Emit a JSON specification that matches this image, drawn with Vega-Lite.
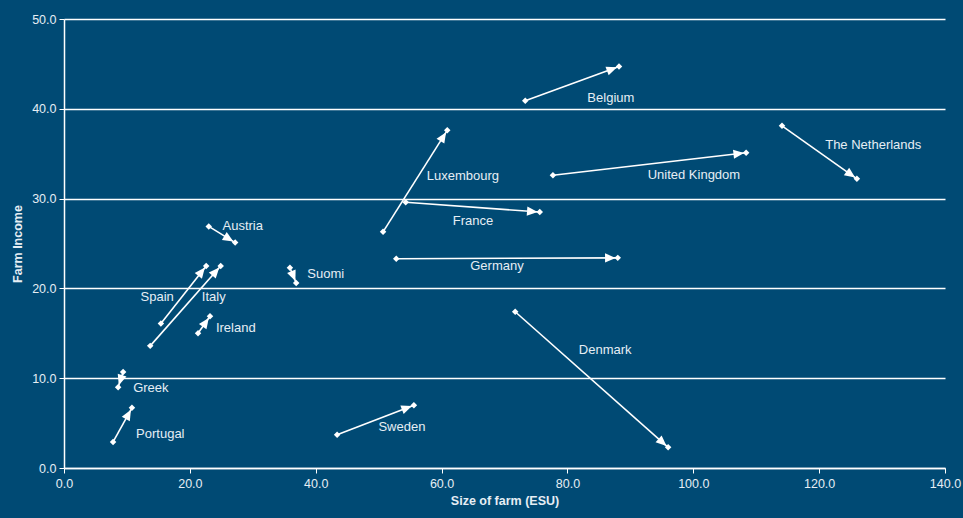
{
  "$schema": "https://vega.github.io/schema/vega-lite/v6.json",
  "width": 881,
  "height": 449,
  "autosize": {"type": "none"},
  "padding": {"left": 64, "top": 19, "right": 18, "bottom": 50},
  "background": "#004a74",
  "config": {
    "view": {"stroke": null},
    "font": "Liberation Sans",
    "axis": {
      "domainColor": "#ffffff",
      "domainWidth": 1.5,
      "tickColor": "#ffffff",
      "tickSize": 5,
      "labelColor": "#e6eef4",
      "labelFont": "Liberation Sans",
      "labelFontSize": 12.5,
      "labelFlush": false,
      "titleColor": "#e6eef4",
      "titleFont": "Liberation Sans",
      "titleFontSize": 12.5,
      "titleFontWeight": "bold",
      "gridColor": "#ffffff",
      "gridWidth": 1.3,
      "gridOpacity": 1
    }
  },
  "data": {
    "values": [
      {"country": "Belgium", "x": 73.3, "y": 40.9, "x2": 88.2, "y2": 44.7, "lx": 86.9, "ly": 41.2},
      {"country": "Luxembourg", "x": 50.7, "y": 26.3, "x2": 60.9, "y2": 37.6, "lx": 63.4, "ly": 32.5},
      {"country": "France", "x": 54.3, "y": 29.6, "x2": 75.6, "y2": 28.5, "lx": 65.0, "ly": 27.5},
      {"country": "United Kingdom", "x": 77.7, "y": 32.6, "x2": 108.4, "y2": 35.1, "lx": 100.1, "ly": 32.6},
      {"country": "The Netherlands", "x": 114.1, "y": 38.1, "x2": 126.0, "y2": 32.2, "lx": 128.6, "ly": 36.0},
      {"country": "Germany", "x": 52.8, "y": 23.3, "x2": 88.0, "y2": 23.4, "lx": 68.8, "ly": 22.5},
      {"country": "Denmark", "x": 71.7, "y": 17.4, "x2": 96.0, "y2": 2.3, "lx": 86.0, "ly": 13.1},
      {"country": "Sweden", "x": 43.4, "y": 3.7, "x2": 55.6, "y2": 7.0, "lx": 53.7, "ly": 4.6},
      {"country": "Austria", "x": 23.0, "y": 26.9, "x2": 27.2, "y2": 25.1, "lx": 28.4, "ly": 26.9},
      {"country": "Suomi", "x": 35.9, "y": 22.3, "x2": 36.9, "y2": 20.6, "lx": 41.6, "ly": 21.6},
      {"country": "Spain", "x": 15.4, "y": 16.1, "x2": 22.6, "y2": 22.5, "lx": 14.8, "ly": 19.0},
      {"country": "Italy", "x": 13.7, "y": 13.6, "x2": 24.9, "y2": 22.5, "lx": 23.8, "ly": 19.0},
      {"country": "Ireland", "x": 21.3, "y": 15.0, "x2": 23.2, "y2": 16.9, "lx": 27.3, "ly": 15.6},
      {"country": "Greek", "x": 9.4, "y": 10.7, "x2": 8.6, "y2": 9.0, "lx": 13.8, "ly": 8.9},
      {"country": "Portugal", "x": 7.8, "y": 2.9, "x2": 10.8, "y2": 6.7, "lx": 15.3, "ly": 3.8}
    ]
  },
  "transform": [
    {"calculate": "atan2((datum.x2 - datum.x) * 6.293, (datum.y2 - datum.y) * 8.98) * 180 / PI", "as": "ang"}
  ],
  "layer": [
    {
      "mark": {"type": "rule", "color": "#ffffff", "strokeWidth": 1.6},
      "encoding": {
        "x": {"field": "x", "type": "quantitative", "scale": {"domain": [0, 140], "nice": false},
          "axis": {"title": "Size of farm (ESU)", "values": [0, 20, 40, 60, 80, 100, 120, 140], "format": ".1f", "grid": false, "labelPadding": 4, "titlePadding": 5}},
        "y": {"field": "y", "type": "quantitative", "scale": {"domain": [0, 50], "nice": false},
          "axis": {"title": "Farm Income", "values": [0, 10, 20, 30, 40, 50], "format": ".1f", "grid": true, "labelPadding": 3, "titlePadding": 7}},
        "x2": {"field": "x2"},
        "y2": {"field": "y2"}
      }
    },
    {
      "mark": {"type": "point", "shape": "diamond", "filled": true, "color": "#ffffff", "size": 42, "opacity": 1},
      "encoding": {
        "x": {"field": "x", "type": "quantitative"},
        "y": {"field": "y", "type": "quantitative"}
      }
    },
    {
      "mark": {"type": "point", "shape": "diamond", "filled": true, "color": "#ffffff", "size": 42, "opacity": 1},
      "encoding": {
        "x": {"field": "x2", "type": "quantitative"},
        "y": {"field": "y2", "type": "quantitative"}
      }
    },
    {
      "mark": {"type": "point", "shape": "M0,0.6L-1.3,3.6L1.3,3.6Z", "filled": true, "color": "#ffffff", "size": 50, "opacity": 1},
      "encoding": {
        "x": {"field": "x2", "type": "quantitative"},
        "y": {"field": "y2", "type": "quantitative"},
        "angle": {"field": "ang", "type": "quantitative", "scale": null}
      }
    },
    {
      "mark": {"type": "text", "color": "#e6eef4", "font": "Liberation Sans", "fontSize": 13, "align": "center", "baseline": "middle"},
      "encoding": {
        "x": {"field": "lx", "type": "quantitative"},
        "y": {"field": "ly", "type": "quantitative"},
        "text": {"field": "country"}
      }
    }
  ]
}
